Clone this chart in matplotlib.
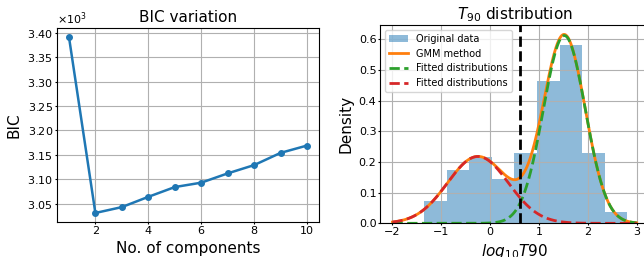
import numpy as np
import matplotlib.pyplot as plt

# BIC for 1..10 mixture components
n_components = [1, 2, 3, 4, 5, 6, 7, 8, 9, 10]
bic = [3392, 3031, 3043, 3064, 3084, 3093, 3112, 3129, 3154, 3169]

# histogram of log10 T90 (density)
bin_edges = [-1.35, -0.888, -0.426, 0.036, 0.498, 0.960, 1.422, 1.884, 2.346, 2.808]
density = [0.072, 0.173, 0.215, 0.144, 0.228, 0.465, 0.581, 0.228, 0.037]

# two-component GMM fit
gmm_means = [1.52, -0.25]
gmm_sigmas = [0.43, 0.622]
gmm_weights = [0.66, 0.34]
threshold = 0.616

plt.rcParams['font.size'] = 8
plt.rcParams['xtick.major.size'] = 1.5
plt.rcParams['ytick.major.size'] = 1.5
plt.rcParams['xtick.major.pad'] = 1.3
plt.rcParams['ytick.major.pad'] = 1.3

fig = plt.figure(figsize=(6.44, 2.57), dpi=100)

ax1 = fig.add_axes([0.0885, 0.137, 0.4068, 0.755])
ax1.plot(n_components, bic, marker='o', markersize=4, lw=1.8, color='C0')
ax1.set_title('BIC variation', fontsize=11, pad=4)
ax1.set_xlabel('No. of components', fontsize=11, labelpad=3.5)
ax1.set_ylabel('BIC', fontsize=11, labelpad=4)
ax1.ticklabel_format(style='sci', axis='y', scilimits=(0, 0), useMathText=True)
ax1.grid(True)

ax2 = fig.add_axes([0.5905, 0.131, 0.417, 0.772])
ax2.hist(bin_edges[:-1], bins=bin_edges, weights=density, alpha=0.5,
         color='C0', label='Original data')

x = np.linspace(-2, 3, 500)
comps = []
for m, s, w in zip(gmm_means, gmm_sigmas, gmm_weights):
    comps.append(w * np.exp(-(x - m) ** 2 / (2 * s ** 2)) / (np.sqrt(2 * np.pi) * s))
ax2.plot(x, comps[0] + comps[1], color='C1', lw=2, label='GMM method')
ax2.plot(x, comps[0], color='C2', lw=2, ls='--', label='Fitted distributions')
ax2.plot(x, comps[1], color='C3', lw=2, ls='--', label='Fitted distributions')
ax2.axvline(threshold, color='k', lw=2, ls='--')

ax2.set_xlim(-2.25, 3.25)
ax2.set_title('$T_{90}$ distribution', fontsize=11, pad=4)
ax2.set_xlabel('$log_{10}T90$', fontsize=11, labelpad=3.5)
ax2.set_ylabel('Density', fontsize=11, labelpad=4)
ax2.legend(loc='upper left', fontsize=7)
ax2.grid(True)

fig.savefig('out.png', dpi=100)
